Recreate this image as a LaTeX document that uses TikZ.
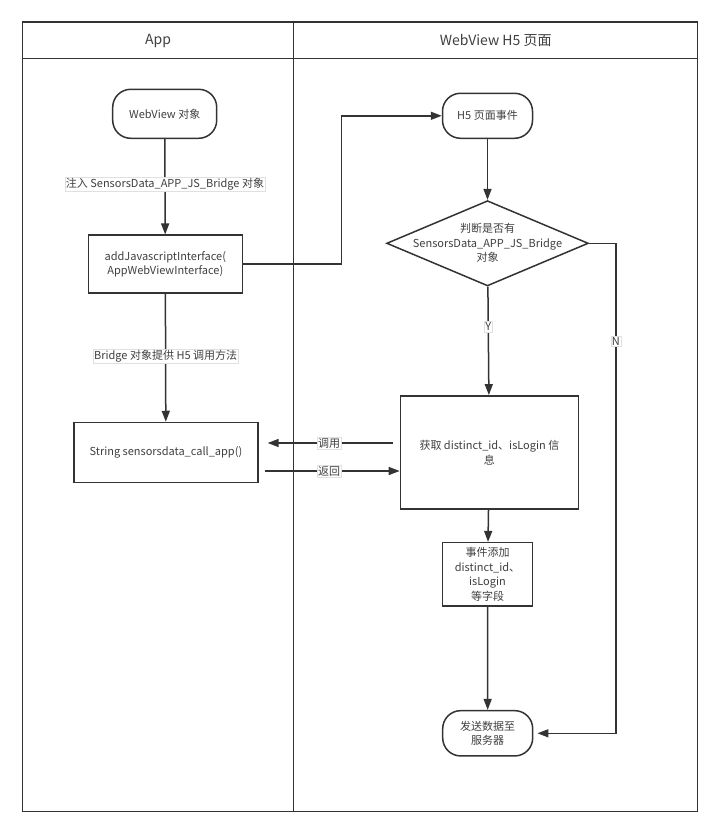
\documentclass[tikz,border=0pt]{standalone}
\usepackage{fontspec}
\setmainfont{Noto Sans CJK SC}
\usetikzlibrary{arrows.meta,shapes.geometric,calc}
\definecolor{ink}{HTML}{333333}
\definecolor{txt}{HTML}{404040}
\begin{document}
\begin{tikzpicture}[x=1pt,y=-1pt,
  font=\fontsize{11}{14.5}\selectfont,
  every node/.append style={text=txt},
  frame/.style={draw=ink,line width=1.3pt},
  box/.style={draw=ink,line width=1.5pt,inner sep=0pt,align=center},
  term/.style={box,rounded corners=18pt},
  conn/.style={draw=ink,line width=1.5pt,-{Triangle[length=11pt,width=8pt]}},
  elabel/.style={fill=white,draw=black!12,line width=0.4pt,inner sep=1pt,text=txt},
  hdr/.style={font=\fontsize{14}{16}\selectfont}]
\useasboundingbox (0,0) rectangle (720,834);
\fill[white] (0,0) rectangle (720,834);
% frame
\draw[frame] (22.3,22) rectangle (697.7,811.7);
\draw[frame] (22.3,58.7) -- (697.7,58.7);
\draw[frame] (293.7,22) -- (293.7,811.7);
\node[hdr] (happ) at (158,40.5) {App};
\node[hdr] (hweb) at (495.7,40.5) {WebView H5 页面};
% App lane
\node[term,minimum width=104pt,minimum height=49pt] (web) at (164.7,113.8) {WebView 对象};
\node[box,minimum width=154pt,minimum height=58pt] (addj) at (165.3,264.2) {addJavascriptInterface(\\AppWebViewInterface)};
\node[box,minimum width=184pt,minimum height=60pt] (call) at (165.9,452.5) {String sensorsdata\_call\_app()};
% H5 lane
\node[term,minimum width=90pt,minimum height=45pt] (h5) at (487.5,115.8) {H5 页面事件};
\node[draw=ink,line width=1.5pt,shape=diamond,minimum width=201.7pt,minimum height=85.3pt,inner sep=0pt,
  label={[align=center,text=txt]center:判断是否有\\SensorsData\_APP\_JS\_Bridge\\对象}] (dec) at (487.5,243.3) {};
\node[box,minimum width=178pt,minimum height=113.4pt] (get) at (489.4,452.5) {获取 distinct\_id、isLogin 信\\息};
\node[box,minimum width=90.4pt,minimum height=63.3pt] (evt) at (487.5,574.3) {事件添加\\distinct\_id、\\isLogin\\等字段};
\node[term,minimum width=90pt,minimum height=45.3pt] (send) at (487.7,733.3) {发送数据至\\服务器};
% connectors
\coordinate (bend) at (341.7,115.8);
\coordinate (ncorner) at (615.8,733.3);
\draw[conn] (web) -- node[elabel,pos=0.47] {注入 SensorsData\_APP\_JS\_Bridge 对象} (addj);
\draw[conn] (addj.east) -| (bend) -- (h5.west);
\draw[conn] (addj) -- node[elabel,pos=0.49] {Bridge 对象提供 H5 调用方法} (call);
\draw[conn] (h5) -- (dec);
\draw[conn] (dec) -- node[elabel,pos=0.37] {Y} (get);
\draw[conn,shorten >=4pt] (dec.east) -| node[elabel,pos=0.6] {N} (ncorner) -- (send.east);
\draw[conn,shorten <=7pt,shorten >=9pt] ([yshift=9.5pt]get.west) -- node[elabel] {调用} ([yshift=9.5pt]call.east);
\draw[conn,shorten <=6pt] ([yshift=-18.5pt]call.east) -- node[elabel] {返回} ([yshift=-18.5pt]get.west);
\draw[conn] (get) -- (evt);
\draw[conn] (evt) -- (send);
\end{tikzpicture}
\end{document}
